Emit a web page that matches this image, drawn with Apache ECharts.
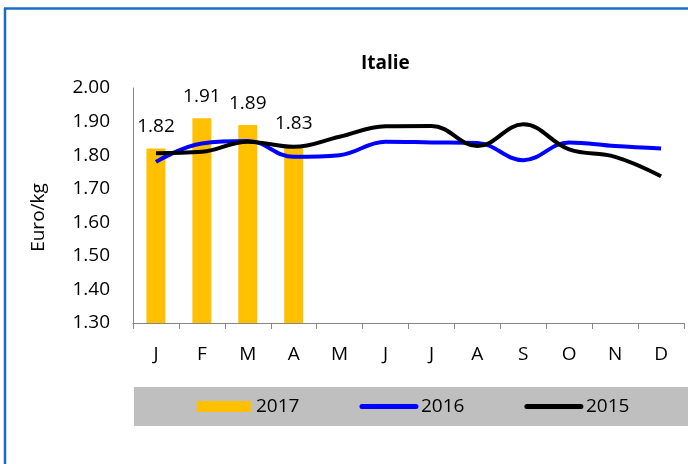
<!DOCTYPE html>
<html>
<head>
<meta charset="utf-8">
<script src="https://cdn.jsdelivr.net/npm/echarts@6/dist/echarts.min.js"></script>
<style>
  html, body { margin: 0; padding: 0; background: #fff; }
  #chart { width: 688px; height: 464px; }
</style>
</head>
<body>
<div id="chart"></div>
<script>
const months = ['J', 'F', 'M', 'A', 'M', 'J', 'J', 'A', 'S', 'O', 'N', 'D'];
const prix2017 = [1.82, 1.91, 1.89, 1.83];
const prix2016 = [1.78, 1.835, 1.842, 1.795, 1.80, 1.84, 1.838, 1.836, 1.785, 1.838, 1.827, 1.82];
const prix2015 = [1.806, 1.81, 1.84, 1.825, 1.855, 1.886, 1.887, 1.827, 1.892, 1.817, 1.795, 1.737];

const font = 'Open Sans';
const chart = echarts.init(document.getElementById('chart'));

// legend line icons: thick line, no symbol
function lineLegend(name, color) {
  return {
    name: name,
    itemStyle: { color: 'transparent', borderWidth: 0 },
    lineStyle: { color: color, width: 5, cap: 'round' }
  };
}

chart.setOption({
  animation: false,
  textStyle: { fontFamily: font },
  title: {
    text: 'Italie',
    left: 361,
    top: 54,
    padding: 0,
    textStyle: { fontFamily: font, fontWeight: 'bold', fontSize: 19, color: '#000' }
  },
  graphic: [
    { type: 'rect', shape: { x: 134, y: 387, width: 560, height: 39 }, style: { fill: '#bfbfbf' }, z: -1 },
    { type: 'line', shape: { x1: 4, y1: 8.5, x2: 688, y2: 8.5 }, style: { stroke: '#1a6cc8', lineWidth: 2.5 } },
    { type: 'line', shape: { x1: 5, y1: 8, x2: 5, y2: 464 }, style: { stroke: '#1a6cc8', lineWidth: 2.5 } }
  ],
  legend: {
    left: 197,
    top: 397,
    padding: 0,
    itemGap: 60,
    itemWidth: 54,
    itemHeight: 11,
    textStyle: { fontFamily: font, fontSize: 19, color: '#000' },
    data: [
      { name: '2017', icon: 'rect' },
      lineLegend('2016', '#0000ff'),
      lineLegend('2015', '#000000')
    ]
  },
  grid: { left: 133, right: 4, top: 88, bottom: 141 },
  xAxis: {
    type: 'category',
    data: months,
    axisLine: { lineStyle: { color: '#868686', width: 1 } },
    axisTick: { show: true, length: 6, lineStyle: { color: '#868686' } },
    axisLabel: { color: '#000', fontSize: 19, margin: 22 }
  },
  yAxis: {
    type: 'value',
    min: 1.3,
    max: 2.0,
    interval: 0.1,
    name: 'Euro/kg',
    nameLocation: 'middle',
    nameGap: 85,
    nameTextStyle: { color: '#000', fontSize: 19, padding: [0, 24, 0, 0] },
    axisLine: { show: true, lineStyle: { color: '#868686', width: 1 } },
    axisTick: { show: false },
    splitLine: { show: false },
    axisLabel: {
      color: '#000',
      fontSize: 19,
      margin: 23,
      formatter: function (v) { return v.toFixed(2); }
    }
  },
  series: [
    {
      name: '2017',
      type: 'bar',
      data: prix2017,
      barWidth: 19,
      itemStyle: { color: '#ffc000' },
      label: {
        show: true,
        position: 'top',
        distance: 12,
        color: '#000',
        fontSize: 19,
        formatter: function (p) { return p.value.toFixed(2); }
      }
    },
    {
      name: '2016',
      type: 'line',
      data: prix2016,
      smooth: 0.4,
      symbol: 'none',
      lineStyle: { color: '#0000ff', width: 4 },
      itemStyle: { color: '#0000ff' }
    },
    {
      name: '2015',
      type: 'line',
      data: prix2015,
      smooth: 0.4,
      symbol: 'none',
      lineStyle: { color: '#000000', width: 4 },
      itemStyle: { color: '#000000' }
    }
  ]
});
</script>
</body>
</html>
